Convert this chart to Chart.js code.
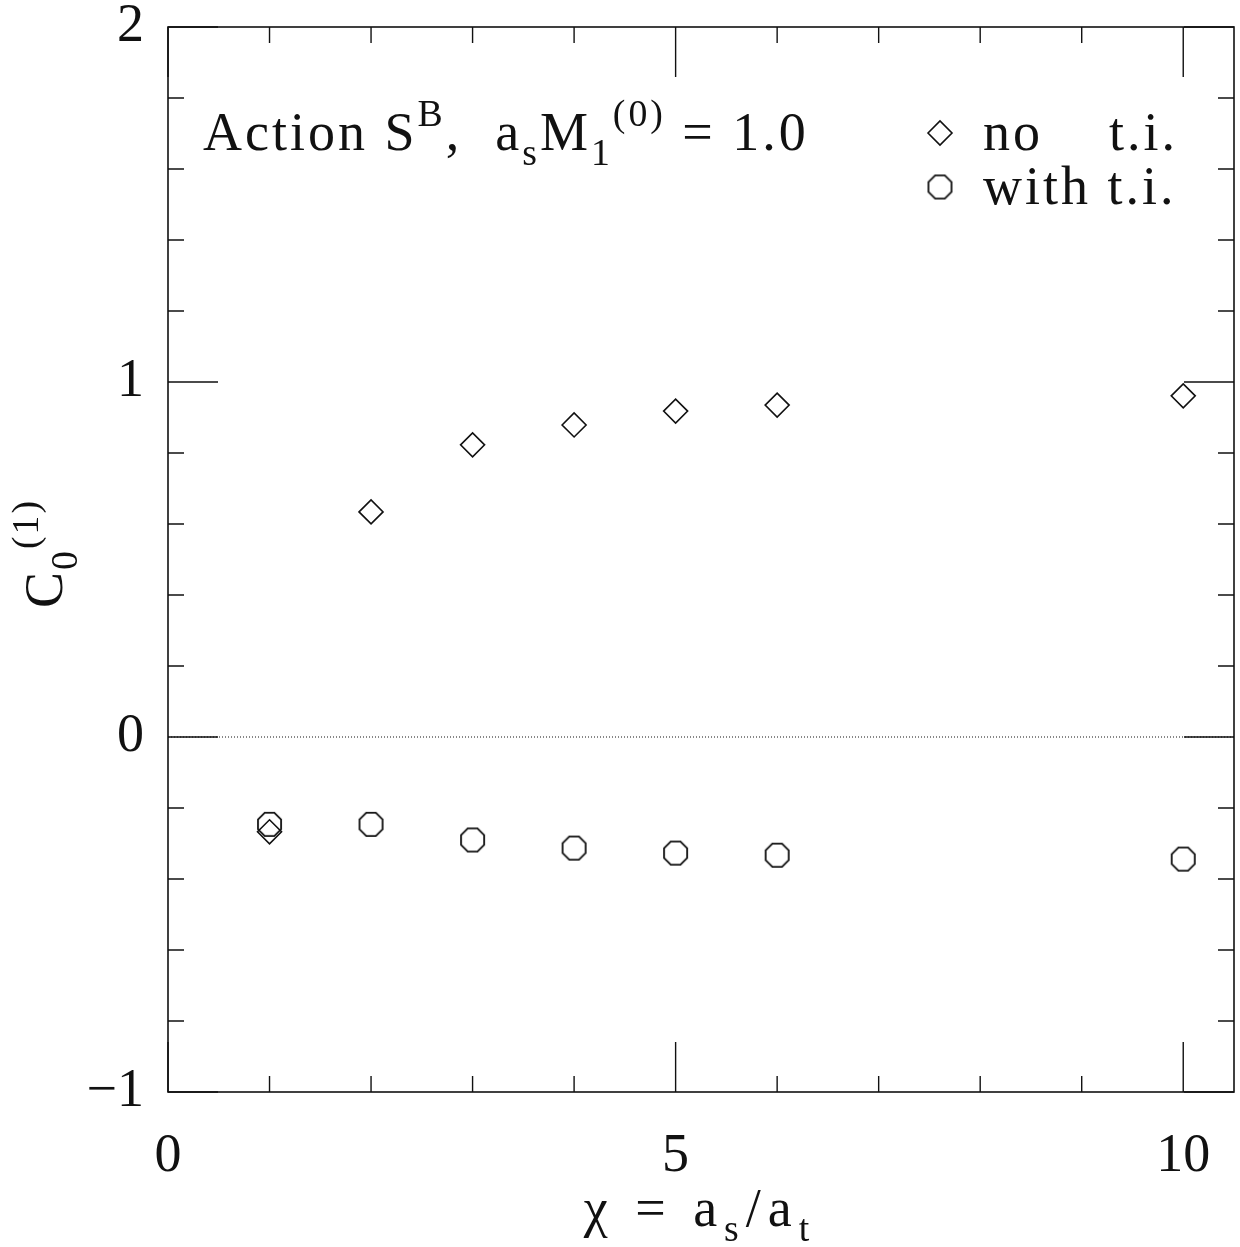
<!DOCTYPE html>
<html lang="en">
<head>
  <meta charset="UTF-8">
  <title>C0(1) vs chi</title>
  <script src="https://cdn.jsdelivr.net/npm/chart.js"></script>
  <style>
    body { margin: 0; padding: 0; background: #fff; }
    canvas { display: block; }
  </style>
</head>
<body>
  <canvas id="c0Chart" width="1240" height="1247"></canvas>
  <script>
    // values
    const chi = [1, 2, 3, 4, 5, 6, 10];
    const noTI = [-0.267, 0.634, 0.823, 0.879, 0.918, 0.935, 0.961];
    const withTI = [-0.246, -0.246, -0.290, -0.313, -0.327, -0.333, -0.344];
    const xTicks = [0, 5, 10];
    const yTicks = [-1, 0, 1, 2];

    const FONT = '"Liberation Serif", "DejaVu Serif", serif';
    const INK = '#111';
    const TXT = 54;

    // octagon marker
    function octagon(r, lw) {
      const s = Math.ceil(2 * r + lw * 2 + 2);
      const cv = document.createElement('canvas');
      cv.width = s; cv.height = s;
      const g = cv.getContext('2d');
      g.strokeStyle = INK; g.lineWidth = lw;
      g.beginPath();
      for (let i = 0; i < 8; i++) {
        const a = Math.PI / 8 + i * Math.PI / 4;
        const px = s / 2 + r * Math.cos(a), py = s / 2 + r * Math.sin(a);
        i ? g.lineTo(px, py) : g.moveTo(px, py);
      }
      g.closePath(); g.stroke();
      return cv;
    }
    const octMarker = octagon(12.5, 1.8);

    // text with sub/superscripts: parts = [text, kind] kind: 0 normal, -1 sub, 1 sup
    function drawRich(ctx, parts, x, y, size, spacing, draw = true) {
      let cx = x;
      ctx.letterSpacing = spacing + 'px';
      for (const [t, kind] of parts) {
        const s = kind ? size * 0.7 : size;
        ctx.font = s + 'px ' + FONT;
        const dy = kind === -1 ? size * 0.28 : kind === 1 ? -size * 0.45 : 0;
        if (draw) ctx.fillText(t, cx, y + dy);
        cx += ctx.measureText(t).width;
      }
      ctx.letterSpacing = '0px';
      return cx - x;
    }

    const decor = {
      id: 'decor',
      afterDraw(chart) {
        const ctx = chart.ctx, a = chart.chartArea;
        const xs = chart.scales.x, ys = chart.scales.y;
        ctx.save();
        ctx.strokeStyle = INK; ctx.fillStyle = INK;

        // zero line (dotted)
        const y0 = ys.getPixelForValue(0);
        ctx.lineWidth = 1;
        ctx.setLineDash([1, 2]);
        ctx.beginPath(); ctx.moveTo(a.left, y0); ctx.lineTo(a.right, y0); ctx.stroke();
        ctx.setLineDash([]);

        // frame
        ctx.lineWidth = 1.6;
        ctx.strokeRect(a.left, a.top, a.right - a.left, a.bottom - a.top);

        // ticks, inward on all sides
        ctx.lineWidth = 1.4;
        ctx.beginPath();
        for (let v = 0; v <= 10; v++) {
          const px = xs.getPixelForValue(v);
          const len = v % 5 === 0 ? 50 : 16;
          ctx.moveTo(px, a.bottom); ctx.lineTo(px, a.bottom - len);
          ctx.moveTo(px, a.top); ctx.lineTo(px, a.top + len);
        }
        for (let k = -5; k <= 10; k++) {
          const py = ys.getPixelForValue(k * 0.2);
          const len = k % 5 === 0 ? 50 : 16;
          ctx.moveTo(a.left, py); ctx.lineTo(a.left + len, py);
          ctx.moveTo(a.right, py); ctx.lineTo(a.right - len, py);
        }
        ctx.stroke();

        ctx.textBaseline = 'alphabetic';
        ctx.textAlign = 'left';

        // title inside plot
        drawRich(ctx, [['Action S', 0], ['B', 1], [',  a', 0], ['s', -1], ['M', 0], ['1', -1], ['(0)', 1], [' = 1.0', 0]], 203, 150, TXT, 3);

        // legend
        const lx = 940;
        const ds = chart.data.datasets;
        ctx.lineWidth = 1.6;
        ctx.beginPath();
        ctx.moveTo(lx - 12, 133); ctx.lineTo(lx, 121); ctx.lineTo(lx + 12, 133); ctx.lineTo(lx, 145);
        ctx.closePath(); ctx.stroke();
        ctx.drawImage(octMarker, lx - octMarker.width / 2, 187 - octMarker.height / 2);
        drawRich(ctx, [[ds[0].label, 0]], 983, 150, TXT, 3);
        drawRich(ctx, [[ds[1].label, 0]], 983, 204, TXT, 3);

        // x title
        const xt = [['\u03c7 = a', 0], ['s', -1], ['/a', 0], ['t', -1]];
        const w = drawRich(ctx, xt, 0, 0, TXT, 7, false);
        drawRich(ctx, xt, 700 - w / 2, 1226, TXT, 7);

        // y title rotated
        ctx.translate(62, 608);
        ctx.rotate(-Math.PI / 2);
        drawRich(ctx, [['C', 0], ['0', -1], ['(1)', 1]], 0, 0, TXT, 2);
        ctx.restore();
      }
    };

    const ctx = document.getElementById('c0Chart').getContext('2d');
    const c0Chart = new Chart(ctx, {
      type: 'scatter',
      data: {
        datasets: [{
          label: 'no    t.i.',
          data: chi.map((x, i) => ({ x: x, y: noTI[i] })),
          pointStyle: 'rectRot',
          pointRadius: 12,
          borderColor: INK,
          borderWidth: 1.6,
          backgroundColor: 'rgba(0,0,0,0)'
        }, {
          label: 'with t.i.',
          data: chi.map((x, i) => ({ x: x, y: withTI[i] })),
          pointStyle: octMarker,
          pointRadius: 13,
          borderColor: INK,
          backgroundColor: 'rgba(0,0,0,0)'
        }]
      },
      options: {
        responsive: false,
        animation: false,
        layout: { autoPadding: false, padding: { top: 27, right: 6, left: 0, bottom: 0 } },
        plugins: { legend: { display: false }, tooltip: { enabled: false } },
        scales: {
          x: {
            type: 'linear', min: 0, max: 10.5,
            grid: { display: false }, border: { display: false },
            afterBuildTicks: s => { s.ticks = xTicks.map(v => ({ value: v })); },
            afterFit: s => { s.height = 155; s.paddingLeft = 0; s.paddingRight = 0; },
            ticks: { color: INK, font: { family: FONT, size: TXT }, padding: 24, maxRotation: 0, autoSkip: false }
          },
          y: {
            type: 'linear', min: -1, max: 2,
            grid: { display: false }, border: { display: false },
            afterBuildTicks: s => { s.ticks = yTicks.map(v => ({ value: v })); },
            afterFit: s => { s.width = 168; s.paddingTop = 0; s.paddingBottom = 0; },
            ticks: { color: INK, font: { family: FONT, size: TXT }, padding: 16,
                     callback: v => v < 0 ? '\u2212' + Math.abs(v) : String(v) }
          }
        }
      },
      plugins: [decor]
    });
  </script>
</body>
</html>
